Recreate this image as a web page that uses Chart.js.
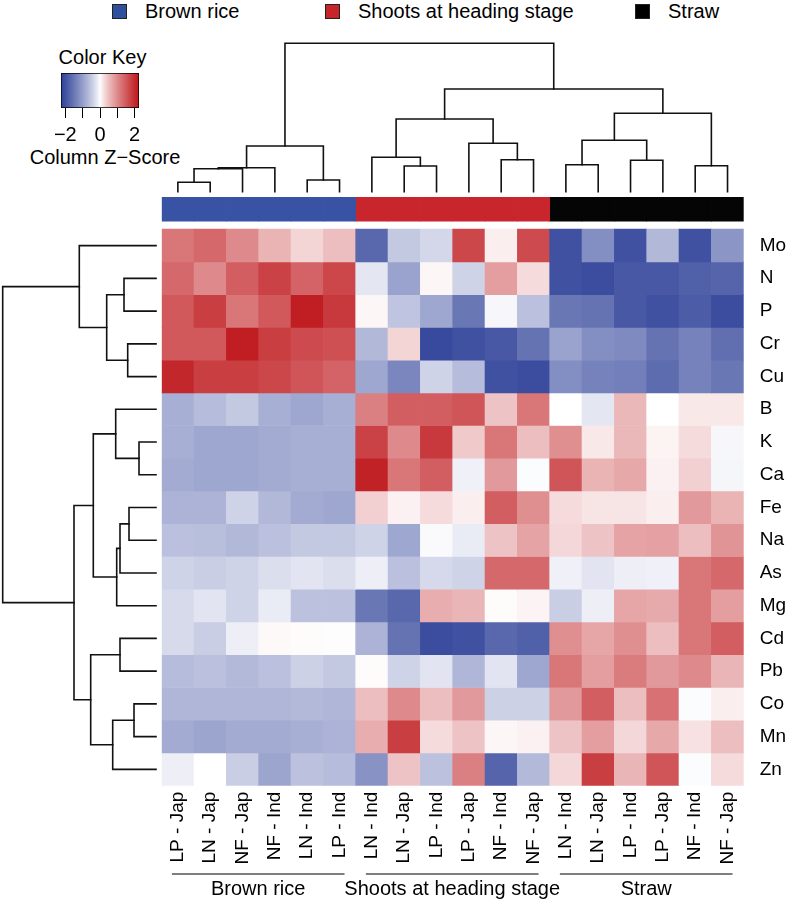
<!DOCTYPE html>
<html>
<head>
<meta charset="utf-8">
<script src="https://cdn.jsdelivr.net/npm/chart.js@4.4.1/dist/chart.umd.min.js"></script>
<style>
  body { margin: 0; background: #fff; }
  #wrap { position: relative; width: 789px; height: 901px; overflow: hidden; font-family: "Liberation Sans", Arial, sans-serif; }
  #wrap canvas { position: absolute; left: 0; top: 0; }
  .sq { position: absolute; top: 4px; width: 13px; height: 13px; border: 1px solid #222; }
  .lg { position: absolute; top: 0; font-size: 20px; line-height: 22px; color: #000; white-space: nowrap; }
  .kt { position: absolute; left: 0; font-size: 20px; line-height: 22px; color: #000; text-align: center; white-space: nowrap; }
</style>
</head>
<body>
<div id="wrap">
  <div class="sq" style="left:112px;background:#2f4f9f"></div><div class="lg" style="left:145px">Brown rice</div>
  <div class="sq" style="left:325px;background:#c8252b"></div><div class="lg" style="left:358px">Shoots at heading stage</div>
  <div class="sq" style="left:635px;background:#000"></div><div class="lg" style="left:668px">Straw</div>
  <div class="kt" style="top:46px;width:205px">Color Key</div>
  <div class="kt" style="top:146px;width:210px">Column Z&#8722;Score</div>
  <canvas id="heat" width="789" height="901"></canvas>
  <canvas id="topTree" width="789" height="901"></canvas>
  <canvas id="leftTree" width="789" height="901"></canvas>
  <canvas id="key" width="789" height="901"></canvas>
</div>
<script>
// columns (samples) in dendrogram order
const colNames = ['LP - Jap', 'LN - Jap', 'NF - Jap', 'NF - Ind', 'LN - Ind', 'LP - Ind',
                  'LN - Ind', 'LN - Jap', 'LP - Ind', 'LP - Jap', 'NF - Ind', 'NF - Jap',
                  'LN - Ind', 'LN - Jap', 'LP - Ind', 'LP - Jap', 'NF - Ind', 'NF - Jap'];
const groupNames = ['Brown rice', 'Shoots at heading stage', 'Straw'];
const groupColors = ['#3853a3', '#c8262c', '#050505'];
const groupStart = [0, 6, 12];
const groupEnd = [5, 11, 17];

// rows (elements), top to bottom
const rowNames = ['Mo', 'N', 'P', 'Cr', 'Cu', 'B', 'K', 'Ca', 'Fe', 'Na', 'As', 'Mg', 'Cd', 'Pb', 'Co', 'Mn', 'Zn'];

// column z-scores, one array per element
const Mo = [1.2, 1.35, 1.0, 0.6, 0.3, 0.5, -1.7, -0.5, -0.35, 1.7, 0.1, 1.65, -2.0, -1.2, -2.0, -0.7, -2.0, -1.1];
const N  = [1.35, 1.0, 1.45, 1.75, 1.4, 1.7, -0.2, -0.95, 0.05, -0.4, 0.8, 0.25, -2.0, -2.05, -1.9, -1.9, -1.8, -1.75];
const P  = [1.5, 1.8, 1.2, 1.5, 2.2, 1.85, 0.05, -0.55, -0.9, -1.5, -0.05, -0.6, -1.5, -1.55, -1.9, -2.0, -1.85, -2.05];
const Cr = [1.5, 1.5, 2.15, 1.8, 1.65, 1.6, -0.7, 0.3, -2.1, -2.0, -1.9, -1.55, -0.95, -1.2, -1.25, -1.55, -1.35, -1.6];
const Cu = [2.05, 1.8, 1.8, 1.7, 1.55, 1.4, -0.9, -1.3, -0.4, -0.65, -2.0, -2.05, -1.2, -1.35, -1.4, -1.65, -1.35, -1.5];
const B  = [-0.8, -0.65, -0.5, -0.8, -0.9, -0.8, 1.1, 1.45, 1.45, 1.55, 0.45, 1.2, 0, -0.2, 0.55, 0, 0.15, 0.15];
const K  = [-0.8, -0.9, -0.9, -0.85, -0.8, -0.8, 1.75, 1.0, 1.85, 0.4, 1.2, 0.5, 0.95, 0.15, 0.55, 0.07, 0.25, -0.05];
const Ca = [-0.85, -0.9, -0.9, -0.85, -0.8, -0.8, 2.1, 1.2, 1.45, -0.1, 0.85, -0.02, 1.55, 0.6, 0.7, 0.08, 0.35, -0.06];
const Fe = [-0.75, -0.75, -0.4, -0.7, -0.85, -0.9, 0.35, 0.08, 0.25, 0.1, 1.45, 0.95, 0.25, 0.18, 0.18, 0.1, 0.85, 0.6];
const Na = [-0.6, -0.62, -0.7, -0.6, -0.5, -0.5, -0.4, -0.9, -0.03, -0.15, 0.45, 0.75, 0.28, 0.45, 0.75, 0.78, 0.5, 0.9];
const As = [-0.4, -0.45, -0.4, -0.28, -0.22, -0.28, -0.12, -0.6, -0.33, -0.4, 1.35, 1.35, -0.1, -0.22, -0.12, -0.1, 1.2, 1.35];
const Mg = [-0.32, -0.22, -0.4, -0.15, -0.58, -0.58, -1.5, -1.7, 0.65, 0.58, 0.02, 0.06, -0.45, -0.12, 0.72, 0.68, 1.2, 0.8];
const Cd = [-0.32, -0.45, -0.12, 0.03, 0.02, 0.01, -0.75, -1.55, -2.05, -2.0, -1.7, -1.8, 0.95, 0.72, 0.95, 0.5, 1.2, 1.45];
const Pb = [-0.65, -0.6, -0.68, -0.6, -0.42, -0.5, 0.02, -0.4, -0.22, -0.72, -0.22, -0.9, 1.2, 0.8, 1.15, 0.85, 1.0, 0.58];
const Co = [-0.72, -0.72, -0.72, -0.72, -0.68, -0.72, 0.5, 1.0, 0.5, 0.85, -0.42, -0.42, 0.85, 1.45, 0.5, 1.25, -0.02, 0.1];
const Mn = [-0.85, -0.92, -0.85, -0.85, -0.8, -0.75, 0.65, 1.8, 0.25, 0.45, 0.05, 0.08, 0.45, 0.8, 0.28, 0.7, 0.2, 0.5];
const Zn = [-0.12, 0, -0.45, -0.92, -0.58, -0.65, -1.15, 0.45, -0.58, 1.1, -1.75, -0.68, 0.28, 1.8, 0.58, 1.55, -0.02, 0.25];
const zRows = [Mo, N, P, Cr, Cu, B, K, Ca, Fe, Na, As, Mg, Cd, Pb, Co, Mn, Zn];

// column dendrogram (hclust style: negative = leaf position, positive = earlier merge)
const colMerge = [[-1, -2], [1, -3], [2, -4], [-5, -6], [3, 4], [-8, -9], [-7, 6], [-11, -12], [-10, 8],
                  [7, 9], [-13, -14], [-15, -16], [11, 12], [-17, -18], [13, 14], [10, 15], [5, 16]];
const colHeight = [0.94, 2.30, 2.40, 1.17, 4.57, 2.57, 3.44, 3.20, 4.84, 7.27, 2.70, 3.14, 5.14, 2.60, 7.84, 10.27, 14.84];

// row dendrogram
const rowMerge = [[-2, -3], [-4, -5], [1, 2], [-1, 3], [-7, -8], [-6, 5], [-9, -10], [7, -11], [8, -12],
                  [6, 9], [-13, -14], [-15, -16], [12, -17], [11, 13], [10, 14], [4, 15]];
const rowHeight = [3.20, 2.83, 4.93, 7.67, 1.70, 4.03, 2.70, 3.60, 3.93, 6.27, 3.60, 2.20, 4.33, 6.53, 8.20, 15.33];

const keyMin = -2.25, keyMax = 2.25;
const keyTicks = [-2, -1, 0, 1, 2];

Chart.defaults.font.family = '"Liberation Sans", Arial, sans-serif';
Chart.defaults.color = '#000';

const BLUE = [52, 70, 155], RED = [192, 30, 34];
function zColor(v) {
  const t = Math.min(1, Math.pow(Math.abs(v) / 2.15, 0.85));
  const e = v < 0 ? BLUE : RED;
  const c = e.map(k => Math.round(255 + (k - 255) * t));
  return 'rgb(' + c.join(',') + ')';
}

// ---- heatmap + column colour bar ----
const barTop = -0.98, barBottom = -0.245;
const heatSets = [];
groupNames.forEach((g, gi) => {
  heatSets.push({
    label: g,
    data: colNames.map((_, j) => (j >= groupStart[gi] && j <= groupEnd[gi]) ? [barTop, barBottom] : null),
    backgroundColor: groupColors[gi],
    grouped: false, barPercentage: 1, categoryPercentage: 1
  });
});
zRows.forEach((vals, r) => {
  heatSets.push({
    label: rowNames[r],
    data: vals.map(() => [r, r + 1]),
    backgroundColor: vals.map(zColor),
    grouped: false, barPercentage: 1, categoryPercentage: 1
  });
});

const bracketPlugin = {
  id: 'brackets',
  afterDraw(chart) {
    const { ctx } = chart;
    const x = chart.scales.x;
    ctx.save();
    ctx.strokeStyle = '#000';
    ctx.lineWidth = 1.2;
    ctx.fillStyle = '#000';
    ctx.font = '20px "Liberation Sans", Arial, sans-serif';
    ctx.textAlign = 'center';
    ctx.textBaseline = 'middle';
    groupNames.forEach((g, i) => {
      const x0 = x.getPixelForValue(groupStart[i]) - 6;
      const x1 = x.getPixelForValue(groupEnd[i]) + 5;
      ctx.beginPath();
      ctx.moveTo(x0, x.bottom - 27);
      ctx.lineTo(x1, x.bottom - 27);
      ctx.stroke();
      ctx.fillText(g, (x0 + x1) / 2, x.bottom - 12);
    });
    ctx.restore();
  }
};

new Chart(document.getElementById('heat'), {
  type: 'bar',
  data: { labels: colNames, datasets: heatSets },
  options: {
    responsive: false,
    animation: false,
    layout: { padding: { left: 161.7, top: 197, right: 0, bottom: 0 } },
    plugins: { legend: { display: false }, tooltip: { enabled: false } },
    scales: {
      x: {
        grid: { display: false, drawTicks: false },
        border: { display: false },
        ticks: { minRotation: 90, maxRotation: 90, autoSkip: false, padding: 6, font: { size: 19 } },
        afterFit: s => { s.height = 115.3; }
      },
      y: { type: 'linear', min: barTop, max: 17, reverse: true, display: false },
      y2: {
        type: 'linear', position: 'right', min: barTop, max: 17, reverse: true,
        grid: { display: false, drawTicks: false },
        border: { display: false },
        afterBuildTicks: s => { s.ticks = rowNames.map((_, i) => ({ value: i + 0.5 })); },
        ticks: { autoSkip: false, padding: 16, font: { size: 19 }, callback: (v, i) => rowNames[i] },
        afterFit: s => { s.width = 45.3; }
      }
    }
  },
  plugins: [bracketPlugin]
});

// ---- dendrograms ----
function dendroPaths(merge, height) {
  const pos = [], h = [], paths = [];
  merge.forEach((m, i) => {
    const p = m.map(k => k < 0 ? -k - 1 : pos[k - 1]);
    const q = m.map(k => k < 0 ? 0 : h[k - 1]);
    pos[i] = (p[0] + p[1]) / 2;
    h[i] = height[i];
    paths.push([[p[0], q[0]], [p[0], height[i]], [p[1], height[i]], [p[1], q[1]]]);
  });
  return paths;
}

const lineStyle = { showLine: true, pointRadius: 0, borderColor: '#111', borderWidth: 1.6, clip: false, borderCapStyle: 'square' };

new Chart(document.getElementById('topTree'), {
  type: 'scatter',
  data: {
    datasets: dendroPaths(colMerge, colHeight).map(path => Object.assign({
      data: path.map(([a, b]) => ({ x: a, y: b }))
    }, lineStyle))
  },
  options: {
    responsive: false,
    animation: false,
    layout: { padding: { left: 161.7, right: 45.3, top: 43.3, bottom: 709.3 } },
    plugins: { legend: { display: false }, tooltip: { enabled: false } },
    scales: {
      x: { type: 'linear', min: -0.5, max: 17.5, display: false },
      y: { type: 'linear', min: 0, max: colHeight[colHeight.length - 1], display: false }
    }
  }
});

new Chart(document.getElementById('leftTree'), {
  type: 'scatter',
  data: {
    datasets: dendroPaths(rowMerge, rowHeight).map(path => Object.assign({
      data: path.map(([a, b]) => ({ x: b, y: a }))
    }, lineStyle))
  },
  options: {
    responsive: false,
    animation: false,
    layout: { padding: { left: 2.7, right: 633, top: 229.3, bottom: 115.3 } },
    plugins: { legend: { display: false }, tooltip: { enabled: false } },
    scales: {
      x: { type: 'linear', min: 0, max: rowHeight[rowHeight.length - 1], reverse: true, display: false },
      y: { type: 'linear', min: -0.5, max: 16.5, reverse: true, display: false }
    }
  }
});

// ---- colour key ----
function keyGradient(context) {
  const chart = context.chart;
  if (!chart.chartArea) return 'transparent';
  const x = chart.scales.x;
  const g = chart.ctx.createLinearGradient(x.getPixelForValue(keyMin), 0, x.getPixelForValue(keyMax), 0);
  for (let i = 0; i <= 90; i++) {
    const v = keyMin + (keyMax - keyMin) * i / 90;
    g.addColorStop(i / 90, zColor(v));
  }
  return g;
}

new Chart(document.getElementById('key'), {
  type: 'bar',
  data: {
    labels: [''],
    datasets: [{
      data: [[keyMin, keyMax]],
      backgroundColor: keyGradient,
      borderColor: '#000', borderWidth: 1, borderSkipped: false,
      barPercentage: 1, categoryPercentage: 1
    }]
  },
  options: {
    indexAxis: 'y',
    responsive: false,
    animation: false,
    layout: { padding: { left: 61, right: 650, top: 73, bottom: 732 } },
    plugins: { legend: { display: false }, tooltip: { enabled: false } },
    scales: {
      y: { display: false },
      x: {
        type: 'linear', min: keyMin, max: keyMax,
        afterBuildTicks: s => { s.ticks = keyTicks.map(v => ({ value: v })); },
        grid: { drawOnChartArea: false, drawTicks: true, tickLength: 10, color: '#000', lineWidth: 1 },
        border: { display: false },
        ticks: {
          autoSkip: false, maxRotation: 0, padding: 5, font: { size: 20 },
          callback: v => (v % 2 === 0) ? (v < 0 ? '\u2212' + Math.abs(v) : String(v)) : ''
        },
        afterFit: s => { s.height = 61; }
      }
    }
  }
});
</script>
</body>
</html>
